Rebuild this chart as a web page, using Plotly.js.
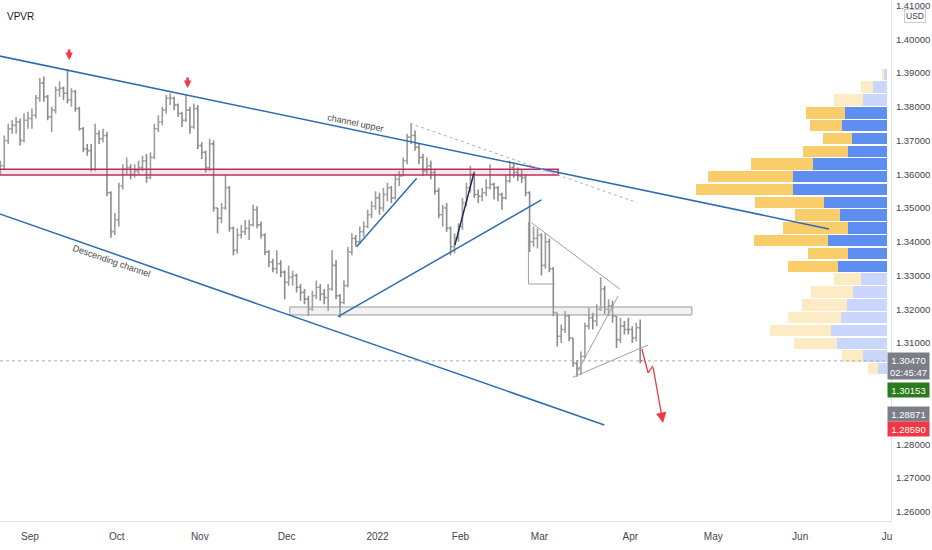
<!DOCTYPE html>
<html>
<head>
<meta charset="utf-8">
<script src="https://cdn.plot.ly/plotly-3.0.1.min.js"></script>
<style>
html,body{margin:0;padding:0;background:#fff;}
#chart{width:932px;height:550px;}
</style>
</head>
<body>
<div id="chart"></div>
<script>
// ---------- price data (daily bars) ----------
const dates = [
'2021-08-20','2021-08-23','2021-08-24','2021-08-25','2021-08-26','2021-08-27','2021-08-30','2021-08-31','2021-09-01','2021-09-02',
'2021-09-03','2021-09-06','2021-09-07','2021-09-08','2021-09-09','2021-09-10','2021-09-13','2021-09-14','2021-09-15','2021-09-16',
'2021-09-17','2021-09-20','2021-09-21','2021-09-22','2021-09-23','2021-09-24','2021-09-27','2021-09-28','2021-09-29','2021-09-30',
'2021-10-01','2021-10-04','2021-10-05','2021-10-06','2021-10-07','2021-10-08','2021-10-11','2021-10-12','2021-10-13','2021-10-14',
'2021-10-15','2021-10-18','2021-10-19','2021-10-20','2021-10-21','2021-10-22','2021-10-25','2021-10-26','2021-10-27','2021-10-28',
'2021-10-29','2021-11-01','2021-11-02','2021-11-03','2021-11-04','2021-11-05','2021-11-08','2021-11-09','2021-11-10','2021-11-11',
'2021-11-12','2021-11-15','2021-11-16','2021-11-17','2021-11-18','2021-11-19','2021-11-22','2021-11-23','2021-11-24','2021-11-25',
'2021-11-26','2021-11-29','2021-11-30','2021-12-01','2021-12-02','2021-12-03','2021-12-06','2021-12-07','2021-12-08','2021-12-09',
'2021-12-10','2021-12-13','2021-12-14','2021-12-15','2021-12-16','2021-12-17','2021-12-20','2021-12-21','2021-12-22','2021-12-23',
'2021-12-24','2021-12-27','2021-12-28','2021-12-29','2021-12-30','2021-12-31','2022-01-03','2022-01-04','2022-01-05','2022-01-06',
'2022-01-07','2022-01-10','2022-01-11','2022-01-12','2022-01-13','2022-01-14','2022-01-17','2022-01-18','2022-01-19','2022-01-20',
'2022-01-21','2022-01-24','2022-01-25','2022-01-26','2022-01-27','2022-01-28','2022-01-31','2022-02-01','2022-02-02','2022-02-03',
'2022-02-04','2022-02-07','2022-02-08','2022-02-09','2022-02-10','2022-02-11','2022-02-14','2022-02-15','2022-02-16','2022-02-17',
'2022-02-18','2022-02-21','2022-02-22','2022-02-23','2022-02-24','2022-02-25','2022-02-28','2022-03-01','2022-03-02','2022-03-03',
'2022-03-04','2022-03-07','2022-03-08','2022-03-09','2022-03-10','2022-03-11','2022-03-14','2022-03-15','2022-03-16','2022-03-17',
'2022-03-18','2022-03-21','2022-03-22','2022-03-23','2022-03-24','2022-03-25','2022-03-28','2022-03-29','2022-03-30','2022-03-31',
'2022-04-01','2022-04-04','2022-04-05'
];
const open = [
1.3620,1.3625,1.3700,1.3735,1.3745,1.3755,1.3700,1.3760,1.3765,1.3775,
1.3825,1.3870,1.3830,1.3770,1.3790,1.3850,1.3855,1.3840,1.3820,1.3845,
1.3795,1.3735,1.3675,1.3670,1.3615,1.3720,1.3705,1.3715,1.3545,1.3430,
1.3465,1.3565,1.3615,1.3620,1.3600,1.3610,1.3620,1.3640,1.3590,1.3650,
1.3735,1.3755,1.3790,1.3825,1.3825,1.3805,1.3780,1.3760,1.3790,1.3740,
1.3795,1.3685,1.3665,1.3620,1.3690,1.3500,1.3470,1.3500,1.3560,1.3440,
1.3375,1.3420,1.3430,1.3440,1.3450,1.3495,1.3450,1.3420,1.3370,1.3340,
1.3320,1.3335,1.3310,1.3280,1.3295,1.3300,1.3265,1.3250,1.3230,1.3200,
1.3240,1.3265,1.3245,1.3235,1.3260,1.3330,1.3240,1.3220,1.3270,1.3370,
1.3410,1.3400,1.3430,1.3445,1.3480,1.3505,1.3530,1.3500,1.3540,1.3560,
1.3530,1.3585,1.3595,1.3640,1.3710,1.3715,1.3680,1.3650,1.3610,1.3625,
1.3605,1.3550,1.3480,1.3500,1.3440,1.3385,1.3410,1.3445,1.3515,1.3560,
1.3600,1.3540,1.3535,1.3545,1.3560,1.3570,1.3560,1.3540,1.3530,1.3580,
1.3620,1.3605,1.3595,1.3590,1.3545,1.3400,1.3410,1.3420,1.3330,1.3400,
1.3320,1.3190,1.3120,1.3140,1.3180,1.3115,1.3040,1.3025,1.3060,1.3150,
1.3175,1.3165,1.3200,1.3260,1.3200,1.3210,1.3180,1.3110,1.3150,1.3140,
1.3140,1.3115,1.3145
];
const high = [
1.3640,1.3715,1.3750,1.3760,1.3770,1.3765,1.3780,1.3785,1.3795,1.3835,
1.3885,1.3890,1.3835,1.3800,1.3860,1.3875,1.3860,1.3912,1.3855,1.3850,
1.3800,1.3740,1.3690,1.3690,1.3750,1.3730,1.3735,1.3725,1.3550,1.3485,
1.3575,1.3630,1.3650,1.3630,1.3630,1.3640,1.3655,1.3660,1.3665,1.3750,
1.3775,1.3800,1.3835,1.3840,1.3830,1.3810,1.3785,1.3835,1.3800,1.3810,
1.3805,1.3695,1.3670,1.3705,1.3700,1.3500,1.3515,1.3600,1.3565,1.3445,
1.3440,1.3450,1.3465,1.3465,1.3510,1.3505,1.3460,1.3425,1.3375,1.3350,
1.3375,1.3345,1.3315,1.3330,1.3315,1.3305,1.3275,1.3260,1.3240,1.3255,
1.3285,1.3275,1.3260,1.3275,1.3375,1.3345,1.3245,1.3285,1.3385,1.3425,
1.3420,1.3445,1.3460,1.3495,1.3520,1.3550,1.3545,1.3560,1.3575,1.3565,
1.3600,1.3610,1.3650,1.3720,1.3750,1.3730,1.3690,1.3660,1.3650,1.3640,
1.3615,1.3560,1.3510,1.3515,1.3445,1.3425,1.3455,1.3530,1.3575,1.3625,
1.3610,1.3555,1.3560,1.3585,1.3630,1.3575,1.3565,1.3545,1.3600,1.3640,
1.3635,1.3620,1.3615,1.3600,1.3550,1.3445,1.3440,1.3425,1.3425,1.3410,
1.3325,1.3190,1.3155,1.3195,1.3185,1.3115,1.3050,1.3075,1.3160,1.3205,
1.3190,1.3215,1.3295,1.3270,1.3230,1.3225,1.3180,1.3175,1.3165,1.3175,
1.3150,1.3160,1.3170
];
const low = [
1.3600,1.3615,1.3690,1.3720,1.3720,1.3685,1.3695,1.3735,1.3735,1.3765,
1.3815,1.3815,1.3760,1.3725,1.3780,1.3830,1.3820,1.3810,1.3800,1.3785,
1.3730,1.3665,1.3655,1.3608,1.3610,1.3690,1.3695,1.3535,1.3412,1.3420,
1.3445,1.3555,1.3600,1.3585,1.3590,1.3600,1.3610,1.3575,1.3585,1.3645,
1.3725,1.3745,1.3780,1.3805,1.3790,1.3770,1.3740,1.3755,1.3720,1.3735,
1.3675,1.3645,1.3605,1.3610,1.3490,1.3425,1.3455,1.3495,1.3430,1.3360,
1.3365,1.3410,1.3420,1.3405,1.3445,1.3440,1.3410,1.3360,1.3325,1.3310,
1.3305,1.3295,1.3230,1.3270,1.3270,1.3250,1.3225,1.3215,1.3180,1.3195,
1.3230,1.3225,1.3215,1.3195,1.3255,1.3230,1.3175,1.3215,1.3265,1.3360,
1.3385,1.3395,1.3415,1.3440,1.3470,1.3495,1.3480,1.3490,1.3520,1.3515,
1.3525,1.3565,1.3595,1.3630,1.3690,1.3670,1.3630,1.3595,1.3600,1.3585,
1.3540,1.3470,1.3445,1.3430,1.3360,1.3365,1.3400,1.3435,1.3505,1.3545,
1.3530,1.3515,1.3520,1.3535,1.3555,1.3525,1.3520,1.3495,1.3525,1.3575,
1.3590,1.3580,1.3575,1.3535,1.3370,1.3385,1.3380,1.3300,1.3320,1.3310,
1.3180,1.3090,1.3100,1.3130,1.3105,1.3030,1.3000,1.3005,1.3055,1.3140,
1.3140,1.3150,1.3195,1.3185,1.3180,1.3160,1.3085,1.3100,1.3125,1.3125,
1.3100,1.3105,1.3040
];
const close = [
1.3625,1.3700,1.3735,1.3745,1.3755,1.3700,1.3760,1.3765,1.3775,1.3825,
1.3870,1.3830,1.3770,1.3790,1.3850,1.3855,1.3840,1.3820,1.3845,1.3795,
1.3735,1.3675,1.3670,1.3615,1.3720,1.3705,1.3715,1.3545,1.3430,1.3465,
1.3565,1.3615,1.3620,1.3600,1.3610,1.3620,1.3640,1.3590,1.3650,1.3735,
1.3755,1.3790,1.3825,1.3825,1.3805,1.3780,1.3760,1.3790,1.3740,1.3795,
1.3685,1.3665,1.3620,1.3690,1.3500,1.3470,1.3500,1.3560,1.3440,1.3375,
1.3420,1.3430,1.3440,1.3450,1.3495,1.3450,1.3420,1.3370,1.3340,1.3320,
1.3335,1.3310,1.3280,1.3295,1.3300,1.3265,1.3250,1.3230,1.3200,1.3240,
1.3265,1.3245,1.3235,1.3260,1.3330,1.3240,1.3220,1.3270,1.3370,1.3410,
1.3400,1.3430,1.3445,1.3480,1.3505,1.3530,1.3500,1.3540,1.3560,1.3530,
1.3585,1.3595,1.3640,1.3710,1.3715,1.3680,1.3650,1.3610,1.3625,1.3605,
1.3550,1.3480,1.3500,1.3440,1.3385,1.3410,1.3445,1.3515,1.3560,1.3600,
1.3540,1.3535,1.3545,1.3560,1.3570,1.3560,1.3540,1.3530,1.3580,1.3620,
1.3605,1.3595,1.3590,1.3545,1.3400,1.3410,1.3420,1.3330,1.3400,1.3320,
1.3190,1.3120,1.3140,1.3180,1.3115,1.3040,1.3025,1.3060,1.3150,1.3175,
1.3165,1.3200,1.3260,1.3200,1.3210,1.3180,1.3110,1.3150,1.3140,1.3140,
1.3115,1.3145,1.3047
];

// ---------- volume profile (VPVR) ----------
const vpRowPrice = [1.3896,1.3858,1.3820,1.3782,1.3744,1.3706,1.3668,1.3630,1.3593,1.3555,
                    1.3517,1.3479,1.3441,1.3403,1.3365,1.3327,1.3289,1.3251,1.3213,1.3175,
                    1.3137,1.3099,1.3062,1.3024];
const vpUpVol   = [3,14,24,42,45,35,39,74,94,94,63,47,39,59,39,49,26,34,40,46,56,50,24,9];
const vpDownVol = [2,12,29,39,32,29,45,62,85,97,69,45,65,74,40,50,27,42,45,53,61,43,21,10];
const vpValueArea = [3, 15]; // first and last row index of the value area

// ---------- axis labels ----------
const monthTicks  = ['2021-09-01','2021-10-01','2021-11-01','2021-12-01','2022-01-03','2022-02-01','2022-03-01','2022-04-01','2022-05-02','2022-06-01','2022-07-01'];
const monthLabels = ['Sep','Oct','Nov','Dec','2022','Feb','Mar','Apr','May','Jun','Ju'];
// price-scale ticks that are visible (1.29 and 1.30 sit under the price tags)
const priceTicks = [1.26,1.27,1.28,1.31,1.32,1.33,1.34,1.35,1.36,1.37,1.38,1.39,1.40,1.41];

// ---------- price scale labels ----------
const lastPrice = 1.3047;
const scaleLabels = [
  {price:1.30319, text:'1.30470<br>02:45:47', color:'#7b7e87'},
  {price:1.29607, text:'1.30153', color:'#2b7a1b'},
  {price:1.28911, text:'1.28871', color:'#7b7e87'},
  {price:1.28452, text:'1.28590', color:'#f23645'}
];

// ---------- drawings (date, price) ----------
const upperChannel  = [['2021-08-20 00:00',1.3951],['2022-06-10 07:00',1.3438]];
const lowerChannel  = [['2021-08-20 00:00',1.3484],['2022-03-23 10:00',1.2857]];
const resistanceZone = [['2021-08-10 00:00',1.35978],['2022-03-07 17:00',1.36147]];
const supportBox    = [['2021-12-01 19:00',1.31830],['2022-04-22 14:00',1.32067]];
const trendLong     = [['2021-12-20 00:00',1.3178],['2022-03-01 12:00',1.3524]];
const trendShort    = [['2021-12-24 17:00',1.3385],['2022-01-14 22:00',1.3588]];
const trendDark     = [['2022-01-28 14:00',1.3390],['2022-02-04 10:00',1.3604]];
const dottedLine    = [['2022-01-13 05:00',1.3751],['2022-04-04 17:00',1.3516]];
const greyLines = [
  [['2022-02-25 00:00',1.34564],['2022-03-29 10:00',1.32591]],
  [['2022-02-24 05:00',1.34585],['2022-02-24 05:00',1.32748]],
  [['2022-02-24 05:00',1.32748],['2022-03-04 22:00',1.32748]],
  [['2022-03-14 10:00',1.30102],['2022-03-28 22:00',1.32393]],
  [['2022-03-11 10:00',1.29984],['2022-04-07 12:00',1.30941]]
];
const projection = [['2022-04-05 22:00',1.30822],['2022-04-07 12:00',1.30114],['2022-04-08 17:00',1.30319],['2022-04-13 07:00',1.28630]];
const topMarks = [['2021-09-14 22:00',1.39385],['2021-10-26 22:00',1.38556]];
const chartTexts = [
  {at:['2021-12-24 10:00',1.37533], text:'channel upper', angle:11.8},
  {at:['2021-09-29 17:00',1.33444], text:'Descending channel', angle:19.2}
];

// ---------- build ----------
const FONT = 'Liberation Sans Narrow, Liberation Sans, Arial, sans-serif';
const BLUE = '#2e6bb0';

const bars = {
  type:'ohlc', x: dates.map(d => d + ' 12:00'),
  open: open, high: high, low: low, close: close,
  increasing:{line:{color:'#9c9c9c', width:1.6}},
  decreasing:{line:{color:'#8c8c8c', width:1.6}},
  tickwidth:0.45, hoverinfo:'skip', xaxis:'x', yaxis:'y'
};

const inVA = i => i >= vpValueArea[0] && i <= vpValueArea[1];
const vpUp = {
  type:'bar', orientation:'h', x: vpUpVol, y: vpRowPrice, width:0.0034,
  marker:{color: vpUpVol.map((v,i) => inVA(i) ? '#5e8ef2' : '#cad6fb'), line:{width:0}},
  xaxis:'x2', yaxis:'y', hoverinfo:'skip'
};
const vpDown = {
  type:'bar', orientation:'h', x: vpDownVol, y: vpRowPrice, width:0.0034,
  marker:{color: vpDownVol.map((v,i) => inVA(i) ? '#f9cd69' : '#fcebc5'), line:{width:0}},
  xaxis:'x2', yaxis:'y', hoverinfo:'skip'
};

function seg(p, color, width, dash){
  return {type:'line', xref:'x', yref:'y', x0:p[0][0], y0:p[0][1], x1:p[1][0], y1:p[1][1],
          line:{color:color, width:width, dash:dash||'solid'}, layer:'above'};
}
const shapes = [
  {type:'rect', xref:'x', yref:'y', x0:resistanceZone[0][0], y0:resistanceZone[0][1], x1:resistanceZone[1][0], y1:resistanceZone[1][1],
   line:{color:'#c8285f', width:1.5}, fillcolor:'rgba(170,170,180,0.22)', layer:'above'},
  {type:'rect', xref:'x', yref:'y', x0:supportBox[0][0], y0:supportBox[0][1], x1:supportBox[1][0], y1:supportBox[1][1],
   line:{color:'#9a9a9a', width:1}, fillcolor:'rgba(200,200,210,0.25)', layer:'above'},
  seg(upperChannel, BLUE, 1.5),
  seg(lowerChannel, BLUE, 1.5),
  seg(trendLong, BLUE, 1.5),
  seg(trendShort, BLUE, 1.5),
  seg(trendDark, '#1d2b4c', 1.5),
  seg(dottedLine, '#b0b0b0', 1, 'dot'),
  {type:'line', xref:'paper', yref:'y', x0:0, x1:1, y0:lastPrice, y1:lastPrice,
   line:{color:'#a9acb4', width:1, dash:'dot'}, layer:'above'}
];
greyLines.forEach(g => shapes.push(seg(g, '#a0a0a0', 1)));
for (let i = 0; i < projection.length - 2; i++) shapes.push(seg([projection[i], projection[i+1]], '#f23645', 1.3));

const annotations = [];
const pa = projection[projection.length-2], pb = projection[projection.length-1];
annotations.push({xref:'x', yref:'y', x:pb[0], y:pb[1], axref:'x', ayref:'y', ax:pa[0], ay:pa[1],
  text:'', showarrow:true, arrowhead:2, arrowsize:1.6, arrowwidth:1.3, arrowcolor:'#f23645', standoff:0});
topMarks.forEach(m => annotations.push({xref:'x', yref:'y', x:m[0], y:m[1], text:'', showarrow:true,
  ax:0, ay:-12, arrowhead:2, arrowsize:0.6, arrowwidth:2.5, arrowcolor:'#f23645', standoff:0}));
chartTexts.forEach(t => annotations.push({xref:'x', yref:'y', x:t.at[0], y:t.at[1], text:t.text,
  textangle:t.angle, showarrow:false, font:{family:'Liberation Sans, Arial, sans-serif', size:9, color:'#4a4a4a'}}));
scaleLabels.forEach(l => annotations.push({xref:'paper', x:1, xanchor:'left', xshift:-4, yref:'y', y:l.price,
  yanchor:'middle', text:l.text, showarrow:false, bgcolor:l.color, width:38, borderpad:1.5, align:'center',
  font:{family:FONT, size:9.5, color:'#ffffff'}}));
annotations.push({xref:'paper', yref:'paper', x:(915/891), y:1-(16/521), xanchor:'center', yanchor:'middle',
  text:'USD', showarrow:false, bgcolor:'#ffffff', bordercolor:'#c9ccd3', borderwidth:1, borderpad:1,
  font:{family:FONT, size:8.5, color:'#434651'}});
annotations.push({xref:'paper', yref:'paper', x:(5/891), y:1-(16.5/521), xanchor:'left', yanchor:'middle',
  text:'VPVR', showarrow:false, font:{family:'Liberation Sans, Arial, sans-serif', size:10, color:'#131722'}});

const layout = {
  width:932, height:550,
  margin:{l:0, r:41, t:0, b:29, pad:0},
  paper_bgcolor:'#ffffff', plot_bgcolor:'#ffffff',
  showlegend:false, barmode:'stack', bargap:0,
  xaxis:{type:'date', range:['2021-08-20 10:00','2022-07-04 00:00'],
    rangebreaks:[{bounds:['sat','mon']}],
    tickmode:'array', tickvals:monthTicks, ticktext:monthLabels,
    showgrid:false, zeroline:false, showline:true, linecolor:'#e0e3eb', linewidth:1,
    ticks:'outside', ticklen:6, tickcolor:'rgba(0,0,0,0)',
    tickfont:{family:FONT, size:10, color:'#434651'},
    rangeslider:{visible:false}, fixedrange:true},
  xaxis2:{overlaying:'x', range:[887,-4], visible:false, anchor:'y', fixedrange:true},
  yaxis:{side:'right', range:[1.25726,1.41163], tickmode:'array', tickvals:priceTicks,
    tickformat:'.5f', ticklabeloverflow:'allow',
    showgrid:false, zeroline:false, showline:true, linecolor:'#e0e3eb', linewidth:1,
    ticks:'outside', ticklen:2, tickcolor:'rgba(0,0,0,0)',
    tickfont:{family:FONT, size:9.5, color:'#434651'}, fixedrange:true},
  shapes:shapes, annotations:annotations
};

Plotly.newPlot('chart', [bars, vpUp, vpDown], layout, {staticPlot:true, displayModeBar:false});
</script>
</body>
</html>
